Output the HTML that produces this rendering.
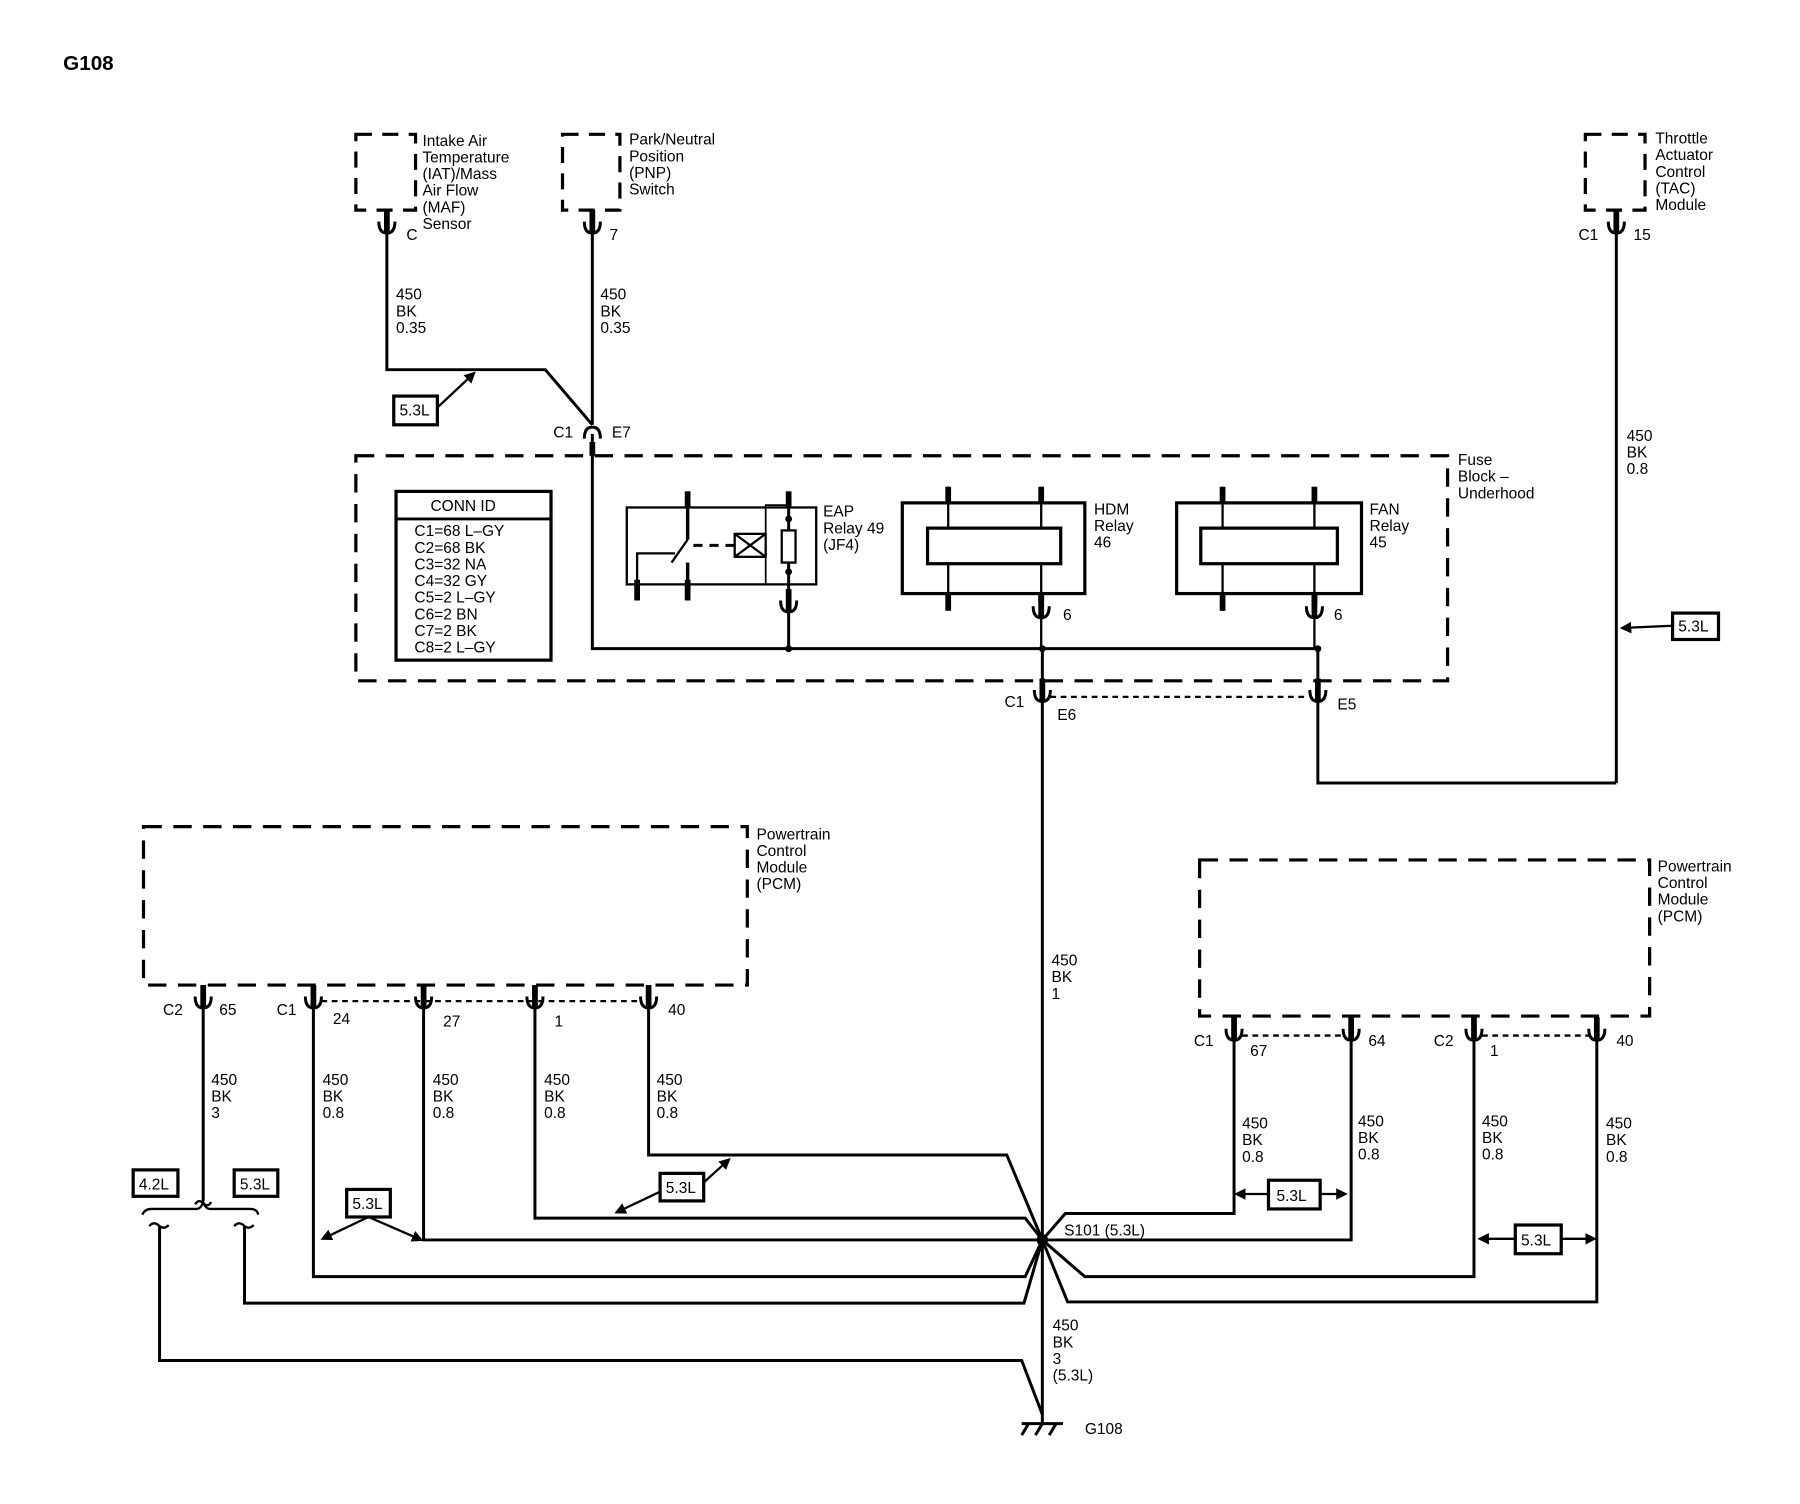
<!DOCTYPE html>
<html><head><meta charset="utf-8"><style>
html,body{margin:0;padding:0;background:#fff;}
svg{display:block;}
text{font-family:"Liberation Sans",sans-serif;font-size:13.5px;fill:#000;}
</style></head><body>
<svg width="1800" height="1504" viewBox="0 0 1568 1310" preserveAspectRatio="none" xmlns="http://www.w3.org/2000/svg">
<defs>
<g id="cup"><path d="M-7,-4 Q-7,6 0,6 Q7,6 7,-4" fill="none" stroke="#000" stroke-width="2.6"/><line x1="0" y1="-14" x2="0" y2="6" stroke="#000" stroke-width="5"/></g>
<g id="cap"><path d="M-7,4 Q-7,-6 0,-6 Q7,-6 7,4" fill="none" stroke="#000" stroke-width="2.6"/></g>
<marker id="ah" markerWidth="10" markerHeight="10" refX="8" refY="5" orient="auto" markerUnits="userSpaceOnUse"><path d="M0,0 L10,5 L0,10 z" fill="#000"/></marker>
</defs>
<g fill="none" stroke="#000" stroke-width="2.6">
<rect x="310" y="117" width="52" height="66" stroke-dasharray="14,9" stroke-width="2.8"/>
<rect x="490" y="117" width="50" height="66" stroke-dasharray="14,9" stroke-width="2.8"/>
<rect x="1381" y="117" width="52" height="66" stroke-dasharray="14,9" stroke-width="2.8"/>
<polyline points="337,200 337,322 475,322 516,370"/>
<line x1="516" y1="200" x2="516" y2="370"/>
<line x1="1408" y1="200" x2="1408" y2="682"/>
<rect x="310" y="397" width="951" height="196" stroke-dasharray="16,10" stroke-width="2.8"/>
<rect x="345" y="428" width="135" height="147" stroke-width="2.8"/>
<line x1="345" y1="452" x2="480" y2="452"/>
<polyline points="516,378 516,565 1148,565"/>
<line x1="516" y1="385" x2="516" y2="397" stroke-width="5"/>
<rect x="546" y="442" width="165" height="67" stroke-width="2"/>
<line x1="599" y1="428" x2="599" y2="470" stroke-width="3"/>
<line x1="599" y1="470" x2="585" y2="490" stroke-width="2"/>
<polyline points="555,523 555,482 588,482" stroke-width="2"/>
<line x1="599" y1="490" x2="599" y2="523" stroke-width="3"/>
<line x1="555" y1="505" x2="555" y2="523" stroke-width="5"/>
<line x1="599" y1="505" x2="599" y2="523" stroke-width="5"/>
<line x1="599" y1="428" x2="599" y2="442" stroke-width="5"/>
<line x1="604" y1="475" x2="640" y2="475" stroke-dasharray="8,6"/>
<rect x="640" y="465" width="27" height="20" stroke-width="2"/>
<path d="M640,465 L667,485 M667,465 L640,485" stroke-width="2"/>
<polyline points="687,428 687,530" stroke-width="2.6"/>
<line x1="687" y1="428" x2="687" y2="442" stroke-width="5"/>
<polyline points="687,440 667,440 667,465" stroke-width="1.5" fill="none"/>
<polyline points="687,509 667,509 667,485" stroke-width="1.5"/>
<rect x="681" y="462" width="12" height="28" fill="#fff" stroke-width="2"/>
<line x1="687" y1="530" x2="687" y2="565"/>
<rect x="786" y="438" width="159" height="79" stroke-width="2.8"/>
<line x1="826" y1="424" x2="826" y2="532" stroke-width="2"/>
<line x1="907" y1="424" x2="907" y2="565" stroke-width="2"/>
<path d="M826,424 V438 M826,517 V532 M907,424 V438 M907,517 V528" stroke-width="5"/>
<rect x="808" y="460" width="116" height="31" fill="#fff" stroke-width="2.8"/>
<rect x="1025" y="438" width="161" height="79" stroke-width="2.8"/>
<line x1="1065" y1="424" x2="1065" y2="532" stroke-width="2"/>
<line x1="1145" y1="424" x2="1145" y2="565" stroke-width="2"/>
<path d="M1065,424 V438 M1065,517 V532 M1145,424 V438 M1145,517 V528" stroke-width="5"/>
<rect x="1046" y="460" width="119" height="31" fill="#fff" stroke-width="2.8"/>
<line x1="1148" y1="565" x2="1148" y2="600"/>
<line x1="908" y1="565" x2="908" y2="600"/>
<line x1="915" y1="607" x2="1140" y2="607" stroke-dasharray="5,4" stroke-width="2"/>
<line x1="908" y1="608" x2="908" y2="1240"/>
<polyline points="1148,608 1148,682 1408,682"/>
<rect x="125" y="720" width="526" height="138" stroke-dasharray="16,10" stroke-width="2.8"/>
<line x1="280" y1="872" x2="558" y2="872" stroke-dasharray="5,4" stroke-width="2"/>
<line x1="177" y1="875" x2="177" y2="1046"/>
<polyline points="565,875 565,1006 877,1006 908,1080"/>
<polyline points="466,875 466,1061 893,1061 908,1080"/>
<polyline points="369,875 369,1080 908,1080"/>
<polyline points="273,875 273,1112 893,1112 908,1080"/>
<polyline points="213,1068 213,1135 892,1135 908,1080"/>
<polyline points="139,1068 139,1185 890,1185 908,1232"/>
<path d="M124,1058 Q126,1053 132,1053 L171,1053 Q175,1053 177,1047 Q179,1053 183,1053 L218,1053 Q224,1053 225,1058" stroke-width="2"/>
<path d="M170,1049 Q173,1044 177,1048 Q181,1052 184,1047" stroke-width="2"/>
<path d="M130,1068 Q134,1063 139,1068 Q143,1071 147,1067" stroke-width="2"/>
<path d="M204,1068 Q208,1063 213,1068 Q217,1071 221,1067" stroke-width="2"/>
<rect x="1045" y="749" width="392" height="136" stroke-dasharray="16,10" stroke-width="2.8"/>
<line x1="1082" y1="902" x2="1170" y2="902" stroke-dasharray="5,4" stroke-width="2"/>
<line x1="1291" y1="902" x2="1384" y2="902" stroke-dasharray="5,4" stroke-width="2"/>
<polyline points="1075,905 1075,1057 928,1057 908,1080"/>
<polyline points="1177,905 1177,1080 908,1080"/>
<polyline points="1284,905 1284,1112 945,1112 908,1080"/>
<polyline points="1391,905 1391,1134 930,1134 908,1080"/>
<line x1="890" y1="1240" x2="926" y2="1240"/>
<path d="M896,1240 L890,1250 M908,1240 L902,1250 M920,1240 L914,1250"/>
<rect x="343" y="345" width="38" height="25" stroke-width="2.8"/>
<rect x="1457" y="534" width="40" height="23" stroke-width="2.8"/>
<rect x="116" y="1019" width="39" height="23" stroke-width="2.8"/>
<rect x="204" y="1019" width="38" height="23" stroke-width="2.8"/>
<rect x="302" y="1036" width="38" height="24" stroke-width="2.8"/>
<rect x="575" y="1022" width="38" height="24" stroke-width="2.8"/>
<rect x="1105" y="1028" width="45" height="25" stroke-width="2.8"/>
<rect x="1320" y="1067" width="40" height="25" stroke-width="2.8"/>
<line x1="381" y1="355" x2="413" y2="325" marker-end="url(#ah)" stroke-width="2"/>
<line x1="1457" y1="545" x2="1413" y2="547" marker-end="url(#ah)" stroke-width="2"/>
<line x1="321" y1="1060" x2="281" y2="1079" marker-end="url(#ah)" stroke-width="2"/>
<line x1="321" y1="1060" x2="367" y2="1080" marker-end="url(#ah)" stroke-width="2"/>
<line x1="575" y1="1038" x2="537" y2="1056" marker-end="url(#ah)" stroke-width="2"/>
<line x1="613" y1="1030" x2="635" y2="1010" marker-end="url(#ah)" stroke-width="2"/>
<line x1="1105" y1="1040" x2="1077" y2="1040" marker-end="url(#ah)" stroke-width="2"/>
<line x1="1150" y1="1040" x2="1172" y2="1040" marker-end="url(#ah)" stroke-width="2"/>
<line x1="1320" y1="1079" x2="1289" y2="1079" marker-end="url(#ah)" stroke-width="2"/>
<line x1="1360" y1="1079" x2="1389" y2="1079" marker-end="url(#ah)" stroke-width="2"/>
</g>
<circle cx="908" cy="1080" r="5" fill="#000"/>
<circle cx="687" cy="565" r="3" fill="#000"/><circle cx="908" cy="565" r="3" fill="#000"/><circle cx="1148" cy="565" r="3" fill="#000"/>
<circle cx="687" cy="452" r="3" fill="#000"/><circle cx="687" cy="498" r="3" fill="#000"/>
<use href="#cup" x="337" y="197"/><use href="#cup" x="516" y="197"/><use href="#cup" x="1408" y="197"/>
<use href="#cap" x="516" y="378"/>
<use href="#cup" x="687" y="527"/><use href="#cup" x="907" y="532"/><use href="#cup" x="1145" y="532"/>
<use href="#cup" x="908" y="605"/><use href="#cup" x="1148" y="605"/>
<use href="#cup" x="177" y="872"/><use href="#cup" x="273" y="872"/><use href="#cup" x="369" y="872"/><use href="#cup" x="466" y="872"/><use href="#cup" x="565" y="872"/>
<use href="#cup" x="1075" y="900"/><use href="#cup" x="1177" y="900"/><use href="#cup" x="1284" y="900"/><use href="#cup" x="1391" y="900"/>
<text x="55" y="61" style="font-size:18px;font-weight:bold">G108</text>
<text x="368" y="127"><tspan x="368">Intake Air</tspan><tspan x="368" dy="14.5">Temperature</tspan><tspan x="368" dy="14.5">(IAT)/Mass</tspan><tspan x="368" dy="14.5">Air Flow</tspan><tspan x="368" dy="14.5">(MAF)</tspan><tspan x="368" dy="14.5">Sensor</tspan></text>
<text x="548" y="126"><tspan x="548">Park/Neutral</tspan><tspan x="548" dy="14.5">Position</tspan><tspan x="548" dy="14.5">(PNP)</tspan><tspan x="548" dy="14.5">Switch</tspan></text>
<text x="1442" y="125"><tspan x="1442">Throttle</tspan><tspan x="1442" dy="14.5">Actuator</tspan><tspan x="1442" dy="14.5">Control</tspan><tspan x="1442" dy="14.5">(TAC)</tspan><tspan x="1442" dy="14.5">Module</tspan></text>
<text x="354" y="209">C</text><text x="531" y="209">7</text><text x="1375" y="209">C1</text><text x="1423" y="209">15</text>
<text x="345" y="261"><tspan x="345">450</tspan><tspan x="345" dy="14.5">BK</tspan><tspan x="345" dy="14.5">0.35</tspan></text>
<text x="523" y="261"><tspan x="523">450</tspan><tspan x="523" dy="14.5">BK</tspan><tspan x="523" dy="14.5">0.35</tspan></text>
<text x="1417" y="384"><tspan x="1417">450</tspan><tspan x="1417" dy="14.5">BK</tspan><tspan x="1417" dy="14.5">0.8</tspan></text>
<text x="348" y="362">5.3L</text><text x="1462" y="550">5.3L</text>
<text x="482" y="381">C1</text><text x="533" y="381">E7</text>
<text x="1270" y="405"><tspan x="1270">Fuse</tspan><tspan x="1270" dy="14.5">Block –</tspan><tspan x="1270" dy="14.5">Underhood</tspan></text>
<text x="375" y="445">CONN ID</text>
<text x="361" y="467"><tspan x="361">C1=68 L–GY</tspan><tspan x="361" dy="14.5">C2=68 BK</tspan><tspan x="361" dy="14.5">C3=32 NA</tspan><tspan x="361" dy="14.5">C4=32 GY</tspan><tspan x="361" dy="14.5">C5=2 L–GY</tspan><tspan x="361" dy="14.5">C6=2 BN</tspan><tspan x="361" dy="14.5">C7=2 BK</tspan><tspan x="361" dy="14.5">C8=2 L–GY</tspan></text>
<text x="717" y="450"><tspan x="717">EAP</tspan><tspan x="717" dy="14.5">Relay 49</tspan><tspan x="717" dy="14.5">(JF4)</tspan></text>
<text x="953" y="448"><tspan x="953">HDM</tspan><tspan x="953" dy="14.5">Relay</tspan><tspan x="953" dy="14.5">46</tspan></text>
<text x="1193" y="448"><tspan x="1193">FAN</tspan><tspan x="1193" dy="14.5">Relay</tspan><tspan x="1193" dy="14.5">45</tspan></text>
<text x="926" y="540">6</text><text x="1162" y="540">6</text>
<text x="875" y="616">C1</text><text x="921" y="627">E6</text><text x="1165" y="618">E5</text>
<text x="916" y="841"><tspan x="916">450</tspan><tspan x="916" dy="14.5">BK</tspan><tspan x="916" dy="14.5">1</tspan></text>
<text x="659" y="731"><tspan x="659">Powertrain</tspan><tspan x="659" dy="14.5">Control</tspan><tspan x="659" dy="14.5">Module</tspan><tspan x="659" dy="14.5">(PCM)</tspan></text>
<text x="1444" y="759"><tspan x="1444">Powertrain</tspan><tspan x="1444" dy="14.5">Control</tspan><tspan x="1444" dy="14.5">Module</tspan><tspan x="1444" dy="14.5">(PCM)</tspan></text>
<text x="142" y="884">C2</text><text x="191" y="884">65</text><text x="241" y="884">C1</text><text x="290" y="892">24</text><text x="386" y="894">27</text><text x="483" y="894">1</text><text x="582" y="884">40</text>
<text x="1040" y="911">C1</text><text x="1089" y="920">67</text><text x="1192" y="911">64</text><text x="1249" y="911">C2</text><text x="1298" y="920">1</text><text x="1408" y="911">40</text>
<text x="184" y="945"><tspan x="184">450</tspan><tspan x="184" dy="14.5">BK</tspan><tspan x="184" dy="14.5">3</tspan></text>
<text x="281" y="945"><tspan x="281">450</tspan><tspan x="281" dy="14.5">BK</tspan><tspan x="281" dy="14.5">0.8</tspan></text>
<text x="377" y="945"><tspan x="377">450</tspan><tspan x="377" dy="14.5">BK</tspan><tspan x="377" dy="14.5">0.8</tspan></text>
<text x="474" y="945"><tspan x="474">450</tspan><tspan x="474" dy="14.5">BK</tspan><tspan x="474" dy="14.5">0.8</tspan></text>
<text x="572" y="945"><tspan x="572">450</tspan><tspan x="572" dy="14.5">BK</tspan><tspan x="572" dy="14.5">0.8</tspan></text>
<text x="1082" y="983"><tspan x="1082">450</tspan><tspan x="1082" dy="14.5">BK</tspan><tspan x="1082" dy="14.5">0.8</tspan></text>
<text x="1183" y="981"><tspan x="1183">450</tspan><tspan x="1183" dy="14.5">BK</tspan><tspan x="1183" dy="14.5">0.8</tspan></text>
<text x="1291" y="981"><tspan x="1291">450</tspan><tspan x="1291" dy="14.5">BK</tspan><tspan x="1291" dy="14.5">0.8</tspan></text>
<text x="1399" y="983"><tspan x="1399">450</tspan><tspan x="1399" dy="14.5">BK</tspan><tspan x="1399" dy="14.5">0.8</tspan></text>
<text x="121" y="1036">4.2L</text><text x="209" y="1036">5.3L</text><text x="307" y="1053">5.3L</text><text x="580" y="1039">5.3L</text>
<text x="1112" y="1046">5.3L</text><text x="1325" y="1085">5.3L</text>
<text x="927" y="1076">S101 (5.3L)</text>
<text x="917" y="1159"><tspan x="917">450</tspan><tspan x="917" dy="14.5">BK</tspan><tspan x="917" dy="14.5">3</tspan><tspan x="917" dy="14.5">(5.3L)</tspan></text>
<text x="945" y="1249">G108</text>
</svg>
</body></html>
